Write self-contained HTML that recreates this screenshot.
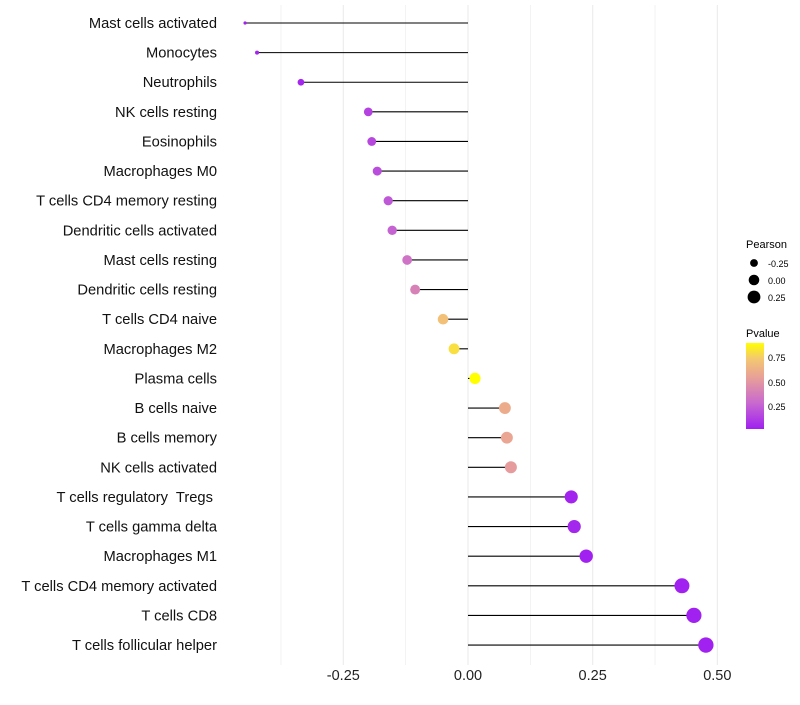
<!DOCTYPE html>
<html><head><meta charset="utf-8"><style>
body{margin:0;background:#fff;font-family:"Liberation Sans",sans-serif}
svg text{font-family:"Liberation Sans",sans-serif;white-space:pre}
</style></head><body>
<svg id="chart" width="800" height="700">
<defs><linearGradient id="pg" x1="0" y1="1" x2="0" y2="0">
<stop offset="0" stop-color="#A020F0"/><stop offset="0.3" stop-color="#C868D0"/><stop offset="0.6" stop-color="#E8A098"/><stop offset="0.82" stop-color="#F4C870"/><stop offset="1" stop-color="#FFFF00"/></linearGradient></defs>
<g id="grid"></g><g id="marks"></g><g id="labels"></g>
<g>
<text x="746" y="248" font-size="11">Pearson</text>
<circle cx="754" cy="263" r="3.9"/><text x="768" y="267" font-size="9">-0.25</text>
<circle cx="754" cy="280" r="5.3"/><text x="768" y="284" font-size="9">0.00</text>
<circle cx="754" cy="297" r="6.4"/><text x="768" y="301" font-size="9">0.25</text>
</g>
<g>
<text x="746" y="337" font-size="11">Pvalue</text>
<rect x="746" y="343" width="18" height="86" fill="url(#pg)"/>
<text x="768" y="361" font-size="9">0.75</text>
<text x="768" y="386" font-size="9">0.50</text>
<text x="768" y="410" font-size="9">0.25</text>
</g>
</svg>
<script>
const categories=["Mast cells activated","Monocytes","Neutrophils","NK cells resting","Eosinophils","Macrophages M0","T cells CD4 memory resting","Dendritic cells activated","Mast cells resting","Dendritic cells resting","T cells CD4 naive","Macrophages M2","Plasma cells","B cells naive","B cells memory","NK cells activated","T cells regulatory  Tregs ","T cells gamma delta","Macrophages M1","T cells CD4 memory activated","T cells CD8","T cells follicular helper"];
const pearson=[-0.447,-0.423,-0.335,-0.200,-0.193,-0.182,-0.160,-0.152,-0.122,-0.106,-0.050,-0.028,0.014,0.074,0.078,0.086,0.207,0.213,0.237,0.429,0.453,0.477];
const pvalue=[0.02,0.03,0.04,0.14,0.16,0.18,0.22,0.26,0.33,0.4,0.7,0.8,0.89,0.6,0.57,0.52,0.03,0.04,0.02,0.02,0.02,0.02];
const xTicks=[-0.25,0,0.25,0.5];
const xTickLabels=["-0.25","0.00","0.25","0.50"];
const NS="http://www.w3.org/2000/svg";
const x=v=>468+v*498.7;
const y=i=>23+i*29.62;
function mk(t,a,p){const e=document.createElementNS(NS,t);for(const k in a)e.setAttribute(k,a[k]);p.appendChild(e);return e;}
const g=document.getElementById('grid'),m=document.getElementById('marks'),lb=document.getElementById('labels');
const pmin=Math.min(...pearson),pmax=Math.max(...pearson);
function rad(v){const t=(v-pmin)/(pmax-pmin);return Math.sqrt(2.6+t*(57-2.6)+ (t>0.1?2:0));}
const stops=[[0,[160,32,240]],[0.3,[200,104,208]],[0.6,[232,160,152]],[0.82,[244,200,112]],[1,[255,255,0]]];
function col(p){let t=(p-0.016)/(0.89-0.016);t=Math.max(0,Math.min(1,t));for(let k=1;k<stops.length;k++){if(t<=stops[k][0]){const a=stops[k-1],b=stops[k],f=(t-a[0])/(b[0]-a[0]);return 'rgb('+a[1].map((c,j)=>Math.round(c+(b[1][j]-c)*f)).join(',')+')';}}return 'rgb(255,255,0)';}
for(let v=-0.375;v<=0.5;v+=0.125){const l=mk('line',{x1:x(v),x2:x(v),y1:5,y2:665,stroke:'#ebebeb','stroke-width':Math.abs((v*8)%2)>0.5?0.6:1.1},g);

}
xTicks.forEach((v,i)=>{const t=mk('text',{x:x(v),y:680,'font-size':14.5,'text-anchor':'middle',fill:'#222'},lb);t.textContent=xTickLabels[i];

});
categories.forEach((c,i)=>{
const t=mk('text',{x:217,y:y(i)+5,'font-size':14.7,'text-anchor':'end',fill:'#111'},lb);t.textContent=c;


const l=mk('line',{x1:x(0),x2:x(pearson[i]),y1:y(i),y2:y(i),stroke:'#000','stroke-width':1.1},m);


const d=mk('circle',{cx:x(pearson[i]),cy:y(i),r:rad(pearson[i]),fill:col(pvalue[i])},m);


});
</script>
</body></html>
